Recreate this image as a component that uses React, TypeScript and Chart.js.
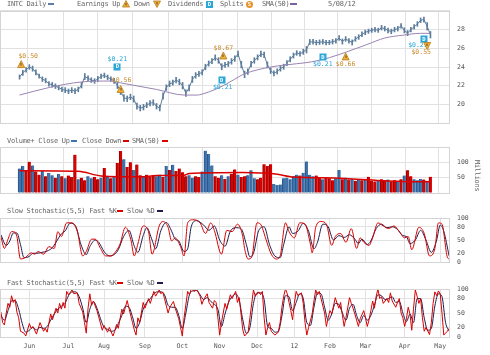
import React, { useEffect, useRef } from 'react';
import { Chart, registerables } from 'chart.js';

Chart.register(...registerables);

// ---------- DATA ----------
// x axis: trading-day index (0 = 2011-05-09 ... 252 = 2012-05-08)
const monthDays = [16, 38, 58, 81, 102, 123, 144, 165, 185, 205, 227, 247];
const monthLabels = ['Jun', 'Jul', 'Aug', 'Sep', 'Oct', 'Nov', 'Dec', '12', 'Feb', 'Mar', 'Apr', 'May'];

// price bars sampled every SAMPLE_STEP trading days
const SAMPLE_STEP = 2;
const priceHigh = [
  23.15, 23.65, 23.95, 24.25, 24.10, 23.70, 23.25, 22.95, 22.80, 22.45,
  22.35, 22.20, 22.05, 21.85, 21.80, 21.65, 21.80, 21.70, 21.85, 22.35,
  23.30, 23.05, 22.85, 22.75, 23.00, 23.25, 23.35, 23.15, 22.95, 22.80,
  22.35, 21.75, 21.05, 20.90, 21.10, 20.90, 20.15, 19.90, 20.00, 20.20,
  20.40, 20.50, 20.10, 19.90, 21.25, 22.10, 22.50, 22.60, 22.90, 22.70,
  22.35, 21.55, 22.10, 23.00, 23.40, 23.55, 23.70, 24.30, 24.65, 24.90,
  25.30, 25.00, 24.35, 24.50, 24.60, 24.90, 25.20, 25.70, 24.60, 23.55,
  23.80, 24.60, 25.00, 25.30, 25.70, 25.60, 24.55, 23.90, 23.60, 23.80,
  24.10, 24.30, 24.70, 25.10, 25.50, 25.75, 25.65, 25.90, 26.20, 26.95,
  26.95, 26.85, 26.90, 26.95, 26.85, 26.85, 26.95, 27.05, 27.35, 27.00,
  27.25, 27.05, 26.90, 27.25, 27.45, 27.75, 27.95, 28.05, 28.15, 28.25,
  28.15, 28.45, 28.35, 28.15, 28.05, 28.25, 28.35, 28.65, 28.20, 27.90,
  28.25, 28.55, 28.85, 29.25, 29.35, 28.75, 27.80,
];
const priceLow = [
  22.70, 23.10, 23.45, 23.75, 23.55, 23.15, 22.80, 22.45, 22.30, 21.95,
  21.85, 21.70, 21.55, 21.35, 21.25, 21.15, 21.25, 21.15, 21.35, 21.75,
  22.65, 22.55, 22.35, 22.25, 22.45, 22.75, 22.85, 22.65, 22.45, 22.25,
  21.70, 21.05, 20.35, 20.30, 20.50, 20.25, 19.50, 19.30, 19.40, 19.65,
  19.85, 19.90, 19.50, 19.30, 20.55, 21.50, 21.90, 22.05, 22.30, 22.10,
  21.65, 20.85, 21.45, 22.35, 22.80, 23.00, 23.15, 23.70, 24.10, 24.35,
  24.70, 24.40, 23.70, 23.95, 24.05, 24.30, 24.60, 25.10, 23.90, 22.85,
  23.20, 24.00, 24.40, 24.75, 25.10, 25.00, 23.90, 23.30, 23.05, 23.25,
  23.55, 23.75, 24.15, 24.55, 24.95, 25.25, 25.15, 25.35, 25.50, 26.40,
  26.45, 26.35, 26.40, 26.45, 26.35, 26.40, 26.45, 26.55, 26.85, 26.45,
  26.75, 26.55, 26.35, 26.75, 26.95, 27.25, 27.45, 27.60, 27.70, 27.75,
  27.70, 27.95, 27.85, 27.65, 27.55, 27.75, 27.85, 28.15, 27.65, 27.35,
  27.75, 28.05, 28.35, 28.75, 28.80, 27.95, 27.10,
];
// price SMA(50): [day, value]
const priceSma = [
  [0, 21.0], [18, 21.8], [38, 22.4], [56, 22.5], [62, 22.3], [84, 21.6], [101, 21.0],
  [109, 21.0], [112, 21.1], [120, 21.6], [127, 22.2], [132, 22.7], [137, 23.2], [146, 23.7],
  [154, 24.0], [162, 24.2], [170, 24.35], [179, 24.55], [190, 25.0], [202, 25.7],
  [213, 26.4], [224, 27.1], [235, 27.4], [246, 27.6], [252, 27.6],
];
// events on price chart
const eventDays = [1, 60, 62, 125, 124, 186, 200, 248, 250];
const eventPrices = [24.26, 24.05, 21.6, 25.18, 22.6, 25.08, 25.08, 27.03, 26.3];
const eventKinds = ['up', 'div', 'up', 'up', 'div', 'div', 'up', 'div', 'down'];
const eventLabels = ['$0.50', '$0.21', '$0.56', '$0.67', '$0.21', '$0.21', '$0.66', '$0.21', '$0.55'];

// volume (millions), sampled every SAMPLE_STEP trading days
const volume = [
  80, 88, 75, 102, 90, 70, 60, 72, 55, 65,
  58, 50, 62, 55, 48, 57, 52, 125, 45, 50,
  42, 55, 48, 52, 45, 50, 82, 53, 48, 55,
  98, 137, 110, 85, 100, 75, 93, 58, 55, 60,
  52, 58, 55, 60, 52, 88, 75, 92, 72, 80,
  68, 55, 58, 50, 55, 52, 70, 138, 127, 90,
  55, 50, 58, 46, 55, 62, 77, 60, 52, 55,
  58, 74, 48, 45, 50, 94, 88, 94, 30, 26,
  28, 48, 50, 45, 55, 60, 57, 66, 103, 60,
  55, 57, 52, 45, 50, 48, 42, 48, 75, 45,
  50, 44, 46, 40, 45, 42, 44, 53, 40, 38,
  42, 45, 40, 44, 38, 42, 40, 45, 57, 74,
  55, 45, 42, 46, 44, 40, 53,
];
// 1 = close up (blue), 0 = close down (red), as seen in the picture
const volumeUp = [
  1, 1, 0, 0, 1, 0, 0, 1, 0, 1,
  1, 0, 1, 0, 1, 0, 0, 0, 1, 0,
  0, 1, 1, 0, 0, 1, 0, 1, 0, 1,
  0, 0, 1, 0, 0, 1, 0, 0, 1, 0,
  0, 0, 1, 1, 0, 1, 0, 1, 0, 0,
  0, 0, 1, 1, 0, 0, 1, 1, 1, 1,
  0, 0, 1, 0, 1, 0, 0, 1, 0, 0,
  1, 1, 1, 0, 0, 0, 0, 0, 1, 1,
  1, 1, 1, 1, 1, 1, 0, 1, 1, 1,
  1, 0, 0, 1, 0, 0, 0, 1, 1, 0,
  1, 0, 1, 0, 1, 0, 1, 0, 0, 0,
  1, 0, 0, 1, 0, 0, 1, 0, 1, 0,
  0, 1, 1, 1, 0, 1, 0,
];
const volumeSma = [
  [0, 73], [36, 71], [50, 56], [75, 53], [84, 57], [101, 58], [104, 64], [137, 67],
  [157, 62], [168, 52], [185, 50], [202, 47], [224, 40], [241, 37], [252, 37],
];

// Slow stochastic (5,5)
const slowK = [
  [0, 58], [2, 31], [4, 52], [6, 69], [7, 69], [9, 58], [11, 7], [14, 11], [17, 21], [19, 18],
  [21, 24], [24, 18], [27, 35], [30, 31], [32, 69], [34, 58], [37, 89], [40, 89], [43, 69], [46, 14],
  [48, 24], [51, 52], [53, 52], [56, 31], [59, 14], [62, 14], [64, 21], [67, 41], [70, 79], [73, 52],
  [75, 14], [77, 41], [80, 82], [83, 69], [85, 18], [89, 82], [91, 92], [94, 79], [96, 48], [98, 55],
  [101, 35], [103, 14], [105, 89], [108, 96], [112, 89], [115, 65], [118, 89], [120, 72], [124, 18], [127, 72],
  [130, 69], [133, 86], [136, 58], [137, 31], [139, 7], [141, 11], [144, 89], [146, 86], [149, 52], [152, 18],
  [155, 7], [157, 14], [160, 89], [162, 69], [165, 55], [168, 89], [171, 86], [174, 41], [175, 21], [177, 79],
  [180, 92], [183, 86], [186, 38], [188, 58], [191, 65], [194, 45], [197, 76], [200, 31], [202, 55], [204, 45],
  [207, 38], [209, 55], [212, 89], [215, 82], [218, 76], [221, 82], [224, 69], [227, 55], [229, 58], [231, 28],
  [235, 79], [238, 65], [241, 14], [244, 31], [246, 89], [248, 86], [251, 11], [252, 7],
];
const slowD = [
  [0, 62], [3, 38], [5, 48], [7, 66], [9, 66], [11, 40], [13, 10], [16, 13], [18, 20], [20, 20],
  [23, 22], [26, 25], [29, 33], [31, 45], [34, 64], [36, 70], [39, 88], [42, 82], [45, 40], [48, 17],
  [50, 35], [53, 50], [55, 45], [58, 24], [61, 14], [64, 18], [66, 28], [69, 58], [72, 72], [75, 36],
  [77, 22], [80, 60], [82, 78], [85, 50], [87, 30], [90, 72], [93, 90], [96, 70], [98, 52], [100, 48],
  [103, 24], [105, 30], [107, 80], [110, 94], [114, 84], [117, 72], [120, 82], [123, 50], [126, 36], [129, 70],
  [132, 78], [135, 76], [138, 40], [140, 12], [142, 20], [145, 72], [148, 80], [151, 40], [154, 14], [157, 10],
  [159, 40], [162, 80], [164, 65], [167, 70], [170, 88], [173, 70], [176, 30], [178, 45], [181, 86], [184, 80],
  [187, 50], [190, 60], [193, 56], [196, 62], [199, 52], [201, 42], [203, 52], [206, 40], [208, 48], [211, 76],
  [214, 86], [217, 78], [220, 80], [223, 74], [226, 60], [228, 58], [230, 42], [233, 50], [236, 72], [239, 50],
  [242, 22], [245, 50], [247, 84], [249, 70], [252, 14],
];

// Fast stochastic (5,5)
const fastK = [
  [0, 52], [1, 30], [2, 25], [3, 50], [4, 70], [5, 62], [6, 86], [7, 72], [8, 78], [9, 52],
  [10, 40], [11, 12], [13, 8], [14, 2], [16, 28], [17, 18], [18, 22], [20, 6], [21, 18], [22, 30],
  [24, 12], [25, 18], [26, 10], [28, 48], [29, 36], [31, 60], [32, 50], [33, 70], [34, 58], [35, 72],
  [36, 60], [37, 95], [38, 88], [40, 98], [41, 90], [43, 92], [44, 70], [46, 52], [47, 30], [48, 8],
  [49, 60], [50, 90], [51, 66], [52, 75], [54, 55], [55, 42], [57, 14], [58, 24], [60, 10], [61, 20],
  [63, 2], [64, 12], [65, 26], [66, 18], [68, 58], [69, 48], [71, 76], [72, 60], [74, 30], [75, 15],
  [76, 4], [77, 40], [78, 30], [80, 72], [81, 60], [83, 80], [84, 70], [86, 95], [87, 85], [89, 98],
  [90, 90], [91, 94], [92, 80], [94, 50], [95, 62], [97, 74], [98, 60], [100, 38], [101, 20], [102, 2],
  [103, 40], [105, 95], [106, 88], [107, 100], [109, 95], [110, 100], [112, 85], [113, 68], [114, 78], [116, 90],
  [117, 72], [119, 60], [120, 76], [121, 72], [122, 40], [123, 4], [124, 30], [126, 70], [127, 58], [129, 88],
  [130, 80], [132, 95], [133, 72], [134, 82], [136, 15], [137, 2], [139, 10], [140, 40], [142, 98], [143, 85],
  [145, 94], [146, 88], [147, 95], [148, 40], [149, 4], [150, 20], [151, 30], [152, 12], [154, 4], [156, 10],
  [157, 30], [158, 62], [159, 85], [160, 100], [161, 90], [162, 72], [163, 55], [164, 36], [165, 70], [166, 95],
  [167, 86], [169, 92], [170, 70], [171, 30], [172, 4], [173, 20], [175, 48], [176, 75], [177, 98], [178, 88],
  [179, 95], [180, 80], [182, 50], [183, 22], [184, 40], [185, 55], [186, 48], [188, 82], [189, 70], [190, 60],
  [191, 72], [192, 45], [193, 22], [194, 40], [196, 82], [197, 70], [198, 60], [199, 48], [201, 22], [202, 38],
  [204, 55], [205, 40], [206, 22], [207, 36], [208, 55], [209, 75], [210, 60], [211, 85], [212, 100], [213, 80],
  [214, 84], [215, 70], [217, 80], [218, 72], [219, 92], [220, 75], [222, 62], [223, 72], [224, 80], [225, 50],
  [226, 40], [227, 22], [228, 38], [229, 62], [230, 48], [231, 14], [232, 60], [233, 98], [234, 85], [235, 70],
  [236, 80], [237, 40], [238, 12], [239, 20], [241, 5], [242, 30], [243, 70], [244, 94], [245, 86], [246, 96],
  [247, 90], [248, 50], [249, 4], [250, 8], [251, 12], [252, 18],
];
const fastD = [
  [0, 45], [2, 35], [4, 55], [6, 75], [8, 76], [10, 58], [12, 28], [14, 10], [16, 14], [18, 20],
  [20, 15], [22, 20], [24, 18], [26, 22], [28, 35], [30, 48], [32, 58], [34, 64], [36, 70], [38, 86],
  [40, 94], [42, 94], [44, 84], [46, 60], [48, 30], [50, 58], [52, 74], [54, 60], [56, 38], [58, 20],
  [60, 16], [62, 12], [64, 14], [66, 28], [68, 45], [70, 64], [72, 62], [74, 42], [76, 18], [78, 30],
  [80, 58], [82, 72], [84, 80], [86, 90], [88, 94], [90, 94], [92, 88], [94, 66], [96, 62], [98, 62],
  [100, 45], [102, 18], [104, 50], [106, 88], [108, 96], [110, 97], [112, 88], [114, 78], [116, 82], [118, 74],
  [120, 68], [122, 58], [124, 22], [126, 48], [128, 72], [130, 84], [132, 90], [134, 76], [136, 36], [138, 8],
  [140, 20], [142, 70], [144, 92], [146, 92], [148, 78], [150, 22], [152, 18], [154, 10], [156, 12], [158, 44],
  [160, 86], [162, 84], [164, 55], [166, 72], [168, 90], [170, 80], [172, 30], [174, 24], [176, 62], [178, 92],
  [180, 90], [182, 62], [184, 35], [186, 48], [188, 70], [190, 68], [192, 50], [194, 35], [196, 60], [198, 68],
  [200, 45], [202, 30], [204, 45], [206, 35], [208, 45], [210, 66], [212, 88], [214, 86], [216, 78], [218, 80],
  [220, 84], [222, 72], [224, 74], [226, 50], [228, 32], [230, 48], [232, 30], [234, 80], [236, 80], [238, 40],
  [240, 14], [242, 18], [244, 65], [246, 90], [248, 84], [250, 30], [252, 12],
];

// ---------- STYLE ----------
const MONO = '"DejaVu Sans Mono", "Liberation Mono", monospace';
const GRID = '#e1e1e1';
const BORDER = '#d4d4d4';
const TEXT = '#555';
const PRICE_COLOR = '#5d7d9c';
const SMA_PURPLE = '#9a84b2';
const UP_BLUE = '#3e73ad';
const UP_EDGE = '#2a5486';
const DOWN_RED = '#d90000';
const DOWN_EDGE = '#8a0000';
const NAVY = '#1c1c4e';
const DIV_CYAN = '#2ba6d8';
const EARN_GOLD = '#f0b23a';
const EARN_TEXT = '#c98b2c';
const TICK_FONT = { family: MONO, size: 6.5 };
// label offsets for events (px)
const eventLabelOffsets = [[7, -8], [0, -7], [1, -9], [0, -8], [1, 7], [0, 7], [0, 7], [-6, 7], [-6, 7]];

const pts = (arr: number[][]) => arr.map(([x, y]) => ({ x, y }));

function xScale(showLabels: boolean) {
  return {
    type: 'linear',
    min: -0.5,
    max: 252.5,
    afterBuildTicks: (s: any) => {
      s.ticks = monthDays.map((v) => ({ value: v }));
    },
    grid: { color: GRID, drawTicks: false, lineWidth: 1 },
    border: { display: false },
    ticks: {
      display: showLabels,
      autoSkip: false,
      maxRotation: 0,
      padding: 5,
      font: TICK_FONT,
      color: TEXT,
      callback: (_v: any, i: number) => monthLabels[i],
    },
    afterFit: (s: any) => {
      s.height = showLabels ? 14 : 0;
    },
  };
}

function yScale(min: number, max: number, tickVals: number[], shown: number[]) {
  return {
    type: 'linear',
    position: 'right',
    min,
    max,
    afterBuildTicks: (s: any) => {
      s.ticks = tickVals.map((v) => ({ value: v }));
    },
    grid: { color: GRID, drawTicks: false },
    border: { display: false },
    ticks: {
      padding: 7,
      font: TICK_FONT,
      color: TEXT,
      callback: (v: any) => (shown.includes(v) ? String(v) : ''),
    },
    afterFit: (s: any) => {
      s.width = 40;
    },
  };
}

const frame = {
  id: 'frame',
  afterDraw(chart: any) {
    const { ctx, chartArea: a } = chart;
    ctx.save();
    ctx.strokeStyle = BORDER;
    ctx.lineWidth = 1;
    ctx.strokeRect(Math.round(a.left) + 0.5, Math.round(a.top) + 0.5, Math.round(a.right - a.left) - 1, Math.round(a.bottom - a.top));
    ctx.restore();
  },
};

function drawTriangle(ctx: any, cx: number, cy: number, up: boolean) {
  ctx.beginPath();
  if (up) {
    ctx.moveTo(cx, cy - 4);
    ctx.lineTo(cx + 3.5, cy + 3);
    ctx.lineTo(cx - 3.5, cy + 3);
  } else {
    ctx.moveTo(cx - 3.5, cy - 3);
    ctx.lineTo(cx + 3.5, cy - 3);
    ctx.lineTo(cx, cy + 4);
  }
  ctx.closePath();
  ctx.fillStyle = EARN_GOLD;
  ctx.fill();
  ctx.strokeStyle = '#b87a18';
  ctx.lineWidth = 0.8;
  ctx.stroke();
  ctx.fillStyle = '#6a4a10';
  ctx.fillRect(Math.round(cx) - 0.5, up ? cy - 1.5 : cy - 2, 1, 2.5);
}

const eventsPlugin = {
  id: 'events',
  afterDatasetsDraw(chart: any) {
    const { ctx, scales } = chart;
    const xs = scales.x;
    const ys = scales.y;
    ctx.save();
    ctx.textAlign = 'center';
    ctx.textBaseline = 'middle';
    eventDays.forEach((d, i) => {
      const px = xs.getPixelForValue(d);
      const py = ys.getPixelForValue(eventPrices[i]);
      const kind = eventKinds[i];
      const [dx, dy] = eventLabelOffsets[i];
      if (kind === 'div') {
        ctx.fillStyle = DIV_CYAN;
        ctx.fillRect(Math.round(px) - 3.5, Math.round(py) - 3.5, 7, 7);
        ctx.fillStyle = '#ffffff';
        ctx.font = `bold 5.5px ${MONO}`;
        ctx.fillText('D', px, py + 0.5);
        ctx.font = `6.5px ${MONO}`;
        ctx.fillStyle = DIV_CYAN;
        ctx.fillText(eventLabels[i], px + dx, py + dy);
      } else {
        drawTriangle(ctx, px, py, kind === 'up');
        ctx.font = `6.5px ${MONO}`;
        ctx.fillStyle = EARN_TEXT;
        ctx.fillText(eventLabels[i], px + dx, py + dy);
      }
    });
    ctx.restore();
  },
};

const baseOptions = {
  responsive: false,
  animation: false,
  devicePixelRatio: 1,
  plugins: { legend: { display: false }, tooltip: { enabled: false } },
  events: [],
};

function T({ x, y, children, color = '#666' }: any) {
  return (
    <span
      style={{
        position: 'absolute',
        left: x,
        top: y,
        fontSize: 7,
        lineHeight: '7px',
        letterSpacing: '-0.3px',
        color,
        whiteSpace: 'pre',
        fontFamily: MONO,
      }}
    >
      {children}
    </span>
  );
}

function Dash({ x, y, w, color }: any) {
  return <div style={{ position: 'absolute', left: x, top: y, width: w, height: 2, background: color }} />;
}

function Tri({ x, y, up }: any) {
  return (
    <svg style={{ position: 'absolute', left: x, top: y }} width={8} height={8}>
      <polygon
        points={up ? '4,0.5 7.5,7 0.5,7' : '0.5,1 7.5,1 4,7.5'}
        fill={EARN_GOLD}
        stroke="#b87a18"
        strokeWidth={0.8}
      />
      <rect x={3.5} y={up ? 3 : 2} width={1} height={2.5} fill="#6a4a10" />
    </svg>
  );
}

function Box({ x, y, letter, color, round }: any) {
  return (
    <div
      style={{
        position: 'absolute',
        left: x,
        top: y,
        width: 7,
        height: 7,
        background: color,
        borderRadius: round ? 4 : 0,
        color: '#fff',
        fontSize: 5.5,
        lineHeight: '7px',
        textAlign: 'center',
        fontWeight: 'bold',
        fontFamily: MONO,
      }}
    >
      {letter}
    </div>
  );
}

export default function App() {
  const priceRef = useRef<HTMLCanvasElement>(null);
  const volRef = useRef<HTMLCanvasElement>(null);
  const slowRef = useRef<HTMLCanvasElement>(null);
  const fastRef = useRef<HTMLCanvasElement>(null);

  useEffect(() => {
    const charts: Chart[] = [];
    const days = priceHigh.map((_, i) => i * SAMPLE_STEP);

    charts.push(
      new Chart(priceRef.current as HTMLCanvasElement, {
        type: 'bar',
        data: {
          datasets: [
            {
              type: 'bar',
              data: days.map((d, i) => ({ x: d, y: [priceLow[i], priceHigh[i]] })),
              backgroundColor: PRICE_COLOR,
              barThickness: 1,
              borderSkipped: false,
              order: 3,
            } as any,
            {
              type: 'line',
              data: days.map((d, i) => ({ x: d, y: (priceLow[i] + priceHigh[i]) / 2 })),
              borderColor: PRICE_COLOR,
              borderWidth: 1,
              pointRadius: 0,
              tension: 0,
              order: 2,
            } as any,
            {
              type: 'line',
              data: pts(priceSma),
              borderColor: SMA_PURPLE,
              borderWidth: 1,
              pointRadius: 0,
              cubicInterpolationMode: 'monotone',
              order: 1,
            } as any,
          ],
        },
        options: {
          ...baseOptions,
          layout: { padding: { top: 10, bottom: 6, left: 0, right: 0 } },
          scales: {
            x: xScale(false),
            y: yScale(18, 30, [18, 20, 22, 24, 26, 28, 30], [20, 22, 24, 26, 28]),
          },
        } as any,
        plugins: [frame, eventsPlugin],
      })
    );

    charts.push(
      new Chart(volRef.current as HTMLCanvasElement, {
        type: 'bar',
        data: {
          datasets: [
            {
              type: 'bar',
              data: days.map((d, i) => ({ x: d, y: volume[i] })),
              backgroundColor: volumeUp.map((u) => (u ? UP_BLUE : DOWN_RED)),
              borderColor: volumeUp.map((u) => (u ? UP_EDGE : DOWN_EDGE)),
              borderWidth: { left: 1, right: 0, top: 0, bottom: 0 },
              borderSkipped: false,
              barThickness: 3,
              order: 2,
            } as any,
            {
              type: 'line',
              data: pts(volumeSma),
              borderColor: DOWN_RED,
              borderWidth: 1.5,
              pointRadius: 0,
              cubicInterpolationMode: 'monotone',
              order: 1,
            } as any,
          ],
        },
        options: {
          ...baseOptions,
          layout: { padding: { top: 17, bottom: 6, left: 0, right: 0 } },
          scales: {
            x: xScale(false),
            y: yScale(0, 150, [0, 50, 100, 150], [50, 100]),
          },
        } as any,
        plugins: [frame],
      })
    );

    const stochConfig = (k: number[][], d: number[][], showX: boolean, top: number, bottom: number, smooth: boolean) => ({
      type: 'line',
      data: {
        datasets: [
          {
            data: pts(k),
            borderColor: DOWN_RED,
            borderWidth: 1,
            pointRadius: 0,
            cubicInterpolationMode: smooth ? 'monotone' : 'default',
            tension: 0,
          },
          {
            data: pts(d),
            borderColor: NAVY,
            borderWidth: 1,
            pointRadius: 0,
            cubicInterpolationMode: 'monotone',
          },
        ],
      },
      options: {
        ...baseOptions,
        layout: { padding: { top, bottom, left: 0, right: 0 } },
        scales: {
          x: xScale(showX),
          y: yScale(0, 100, [0, 20, 50, 80, 100], [0, 20, 50, 80, 100]),
        },
      },
      plugins: [frame],
    });

    charts.push(new Chart(slowRef.current as HTMLCanvasElement, stochConfig(slowK, slowD, false, 18, 6, true) as any));
    charts.push(new Chart(fastRef.current as HTMLCanvasElement, stochConfig(fastK, fastD, true, 19, 4, false) as any));

    return () => charts.forEach((c) => c.destroy());
  }, []);

  const cv = (top: number, h: number) => ({ position: 'absolute' as const, left: 0, top, width: 490, height: h });

  return (
    <div style={{ position: 'fixed', left: 0, top: 0, width: 490, height: 355, background: '#fff', overflow: 'hidden' }}>
      <canvas ref={priceRef} width={490} height={134} style={cv(0, 134)} />
      <canvas ref={volRef} width={490} height={74} style={cv(130, 74)} />
      <canvas ref={slowRef} width={490} height={73} style={cv(200, 73)} />
      <canvas ref={fastRef} width={490} height={85} style={cv(270, 85)} />

      {/* top legend */}
      <T x={7} y={1}>INTC Daily</T>
      <Dash x={48} y={3} w={6} color={PRICE_COLOR} />
      <T x={77} y={1}>Earnings Up</T>
      <Tri x={122} y={0} up />
      <T x={134} y={1}>Down</T>
      <Tri x={153} y={0} up={false} />
      <T x={168} y={1}>Dividends</T>
      <Box x={206} y={1} letter="D" color={DIV_CYAN} />
      <T x={220} y={1}>Splits</T>
      <Box x={246} y={1} letter="S" color="#e8922a" round />
      <T x={262} y={1}>SMA(50)</T>
      <Dash x={290} y={3} w={7} color="#7a64a0" />
      <T x={328} y={1}>5/08/12</T>

      {/* volume legend */}
      <T x={7} y={138}>Volume+ Close Up</T>
      <Dash x={71} y={140} w={6} color={UP_BLUE} />
      <T x={82} y={138}>Close Down</T>
      <Dash x={123} y={140} w={6} color={DOWN_RED} />
      <T x={132} y={138}>SMA(50)</T>
      <Dash x={162} y={140} w={6} color={DOWN_RED} />
      <span
        style={{
          position: 'absolute',
          left: 473,
          top: 160,
          fontSize: 7,
          lineHeight: '7px',
          color: '#666',
          fontFamily: MONO,
          letterSpacing: '-0.3px',
          writingMode: 'vertical-rl',
          whiteSpace: 'pre',
        }}
      >
        Millions
      </span>

      {/* slow stochastic legend */}
      <T x={7} y={208}>Slow Stochastic(5,5) Fast %K</T>
      <Dash x={117} y={210} w={6} color={DOWN_RED} />
      <T x={127} y={208}>Slow %D</T>
      <Dash x={157} y={210} w={6} color={NAVY} />

      {/* fast stochastic legend */}
      <T x={7} y={280}>Fast Stochastic(5,5) Fast %K</T>
      <Dash x={117} y={282} w={6} color={DOWN_RED} />
      <T x={127} y={280}>Slow %D</T>
      <Dash x={157} y={282} w={6} color={NAVY} />
    </div>
  );
}
